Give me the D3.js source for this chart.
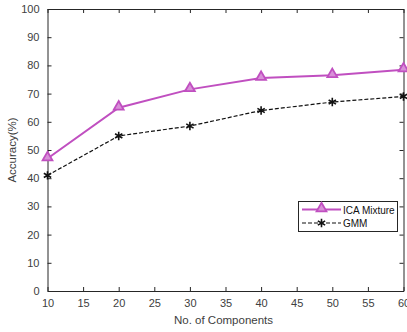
<!DOCTYPE html>
<html>
<head>
<script src="https://d3js.org/d3.v7.min.js"></script>
<style>
body { margin: 0; background: #fff; }
text { font-family: "Liberation Sans", Arial, sans-serif; }
</style>
</head>
<body>
<svg id="chart" width="407" height="332"></svg>
<script>
// data
var components = [10, 20, 30, 40, 50, 60];
var icaMixture = [47, 65, 71.5, 75.5, 76.5, 78.5];
var gmm = [41, 55, 58.5, 64, 67, 69];
var xTicks = [10, 15, 20, 25, 30, 35, 40, 45, 50, 55, 60];
var yTicks = [0, 10, 20, 30, 40, 50, 60, 70, 80, 90, 100];

var svg = d3.select("#chart");
// note: "top" is reserved on window, so use plotTop
var plotLeft = 47.5, plotRight = 403.5, plotTop = 9, plotBottom = 291;

var x = d3.scaleLinear().domain([10, 60]).range([plotLeft, plotRight]);
var y = d3.scaleLinear().domain([0, 100]).range([plotBottom, plotTop]);

var axisCol = "#262626";
var labCol = "#404040";

// axes (box with inward ticks)
var gx = svg.append("g").attr("transform", "translate(0," + plotBottom + ")")
  .call(d3.axisBottom(x).tickValues(xTicks).tickSizeInner(-4).tickSizeOuter(0).tickPadding(8));
var gxt = svg.append("g").attr("transform", "translate(0," + plotTop + ")")
  .call(d3.axisTop(x).tickValues(xTicks).tickSizeInner(-4).tickSizeOuter(0).tickFormat(""));
var gy = svg.append("g").attr("transform", "translate(" + plotLeft + ",0)")
  .call(d3.axisLeft(y).tickValues(yTicks).tickSizeInner(-4).tickSizeOuter(0).tickPadding(8));
var gyr = svg.append("g").attr("transform", "translate(" + plotRight + ",0)")
  .call(d3.axisRight(y).tickValues(yTicks).tickSizeInner(-4).tickSizeOuter(0).tickFormat(""));

[gx, gxt, gy, gyr].forEach(function(g) {
  g.select(".domain").attr("stroke", axisCol).attr("stroke-width", 1);
  g.selectAll(".tick line").attr("stroke", axisCol);
  g.selectAll(".tick text").attr("fill", labCol).attr("font-size", "11px")
    .attr("font-family", "Liberation Sans, Arial, sans-serif");
});

// axis titles
svg.append("text")
  .attr("x", (plotLeft + plotRight) / 2 - 2).attr("y", 324)
  .attr("text-anchor", "middle").attr("fill", labCol).attr("font-size", "11.5px")
  .text("No. of Components");
svg.append("text")
  .attr("transform", "translate(16," + ((plotTop + plotBottom) / 2) + ") rotate(-90)")
  .attr("text-anchor", "middle").attr("fill", labCol).attr("font-size", "11.5px")
  .text("Accuracy(%)");

var magenta = "#c04fc0";

var line = d3.line().x(function(d) { return x(d[0]); }).y(function(d) { return y(d[1]); });
var icaPts = components.map(function(c, i) { return [c, icaMixture[i]]; });
var gmmPts = components.map(function(c, i) { return [c, gmm[i]]; });

svg.append("path").datum(gmmPts).attr("d", line)
  .attr("fill", "none").attr("stroke", "#111").attr("stroke-width", 1.2)
  .attr("stroke-dasharray", "4,2");
svg.append("path").datum(icaPts).attr("d", line)
  .attr("fill", "none").attr("stroke", magenta).attr("stroke-width", 2);

var tri = d3.symbol().type(d3.symbolTriangle).size(42);
var star = d3.symbol().type(d3.symbolAsterisk).size(50);

svg.selectAll(".gm").data(gmmPts).enter().append("path")
  .attr("transform", function(d) { return "translate(" + x(d[0]) + "," + y(d[1]) + ")"; })
  .attr("d", star).attr("fill", "none").attr("stroke", "#111").attr("stroke-width", 1.6);
svg.selectAll(".ic").data(icaPts).enter().append("path")
  .attr("transform", function(d) { return "translate(" + x(d[0]) + "," + (y(d[1]) - 1) + ")"; })
  .attr("d", tri).attr("fill", "#d890d8").attr("stroke", magenta).attr("stroke-width", 1.8);

// legend
var lg = svg.append("g");
lg.append("rect").attr("x", 298.5).attr("y", 201.5).attr("width", 99).attr("height", 30)
  .attr("fill", "#fff").attr("stroke", axisCol).attr("stroke-width", 1);
lg.append("line").attr("x1", 302).attr("x2", 341).attr("y1", 209.5).attr("y2", 209.5)
  .attr("stroke", magenta).attr("stroke-width", 2);
lg.append("path").attr("transform", "translate(321.5,208.5)").attr("d", tri)
  .attr("fill", "#d890d8").attr("stroke", magenta).attr("stroke-width", 1.8);
lg.append("text").attr("x", 343).attr("y", 213.5).attr("fill", "#111").attr("font-size", "10px").text("ICA Mixture");
lg.append("line").attr("x1", 302).attr("x2", 341).attr("y1", 223).attr("y2", 223)
  .attr("stroke", "#111").attr("stroke-width", 1.2).attr("stroke-dasharray", "4,2");
lg.append("path").attr("transform", "translate(321.5,223)").attr("d", star)
  .attr("fill", "none").attr("stroke", "#111").attr("stroke-width", 1.6);
lg.append("text").attr("x", 343).attr("y", 227).attr("fill", "#111").attr("font-size", "10px").text("GMM");
</script>
</body>
</html>
